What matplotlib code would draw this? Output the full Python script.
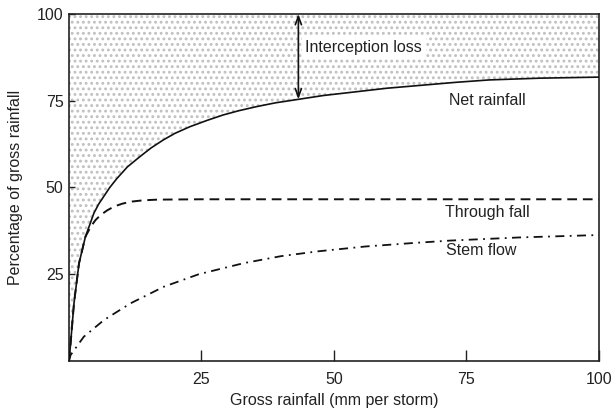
import matplotlib
matplotlib.use("Agg")
import matplotlib.pyplot as plt

plt.rcParams['font.family'] = ['Liberation Sans', 'DejaVu Sans']
plt.rcParams['hatch.linewidth'] = 1.3

# Partitioning of gross rainfall (percent) against storm size (mm)
x_net = [0, 0.3, 0.94, 1.9, 3.1, 4.0, 4.7, 5.6, 6.6, 7.7, 9.0, 11.0, 13.4,
         15.5, 17.8, 20.0, 22.8, 26.0, 29.1, 32.0, 35.4, 39.0, 43.3, 48.0,
         54.3, 60.0, 66.9, 73.0, 79.4, 88.9, 100]
net_rainfall = [0, 5.0, 16.6, 28.2, 35.8, 39.6, 42.6, 45.2, 47.5, 50.0, 52.5,
                55.9, 58.9, 61.4, 63.7, 65.6, 67.5, 69.3, 70.9, 72.1, 73.3,
                74.4, 75.4, 76.5, 77.6, 78.6, 79.5, 80.3, 81.0, 81.5, 81.8]

x_through = [0, 0.3, 0.94, 1.9, 3.1, 4.1, 5.0, 6.0, 7.2, 8.5, 10.0, 11.6, 14.0,
             16.7, 25, 50, 75, 100]
through_fall = [0, 5.0, 16.6, 28.2, 35.8, 38.7, 40.6, 42.1, 43.4, 44.5, 45.3,
                45.9, 46.3, 46.5, 46.6, 46.6, 46.6, 46.6]

x_stem = [0, 0.3, 2.8, 6.6, 11.6, 17.9, 24.5, 33.0, 40.0, 47.0, 56.0, 65.0,
          72.0, 85.0, 100]
stem_flow = [0, 1.7, 7.0, 11.8, 16.6, 21.4, 25.0, 28.2, 30.2, 31.6, 33.0, 34.0,
             34.7, 35.6, 36.3]

x_ticks = [25, 50, 75, 100]
y_ticks = [25, 50, 75, 100]

arrow_x = 43.3
arrow_bottom = 75.4

fig = plt.figure(figsize=(6.16, 4.11), dpi=100)
ax = fig.add_axes([0.112, 0.1217, 0.86, 0.8443])

# stippled interception-loss region above the net rainfall curve
ax.fill_between(x_net, net_rainfall, 100, facecolor='white', edgecolor='#c0c0c0',
                hatch='...', linewidth=0, zorder=1)

ax.plot(x_net, net_rainfall, color='#111111', lw=1.2, zorder=3,
        solid_joinstyle='round')
ax.plot(x_through, through_fall, color='#111111', lw=1.4,
        linestyle=(0, (5, 3)), zorder=3)
ax.plot(x_stem, stem_flow, color='#111111', lw=1.3,
        linestyle=(0, (5, 3, 1, 3)), zorder=3)

ax.annotate('', xy=(arrow_x, 100), xytext=(arrow_x, arrow_bottom),
            arrowprops=dict(arrowstyle='<->,head_length=0.6,head_width=0.22',
                            lw=1.2, color='#111111', shrinkA=0, shrinkB=0),
            zorder=4)

fs = 11.5
tc = '#222222'
ax.text(44.6, 90.2, 'Interception loss', fontsize=fs, color=tc, va='center',
        ha='left', zorder=5,
        bbox=dict(facecolor='white', edgecolor='none', pad=2.5))
ax.text(71.7, 75.2, 'Net rainfall', fontsize=fs, color=tc, va='center', ha='left')
ax.text(70.9, 42.9, 'Through fall', fontsize=fs, color=tc, va='center', ha='left')
ax.text(71.2, 31.8, 'Stem flow', fontsize=fs, color=tc, va='center', ha='left')

ax.set_xlim(0, 100)
ax.set_ylim(0, 100)
ax.set_xticks(x_ticks)
ax.set_yticks(y_ticks)
ax.tick_params(axis='x', direction='in', length=8, width=1, colors='#222222',
               labelsize=fs, pad=8)
ax.tick_params(axis='y', direction='in', length=4, width=1, colors='#222222',
               labelsize=fs, pad=4)
for s in ax.spines.values():
    s.set_linewidth(1.2)
    s.set_color('#222222')

ax.set_xlabel('Gross rainfall (mm per storm)', fontsize=fs, color=tc, labelpad=4)
ax.set_ylabel('Percentage of gross rainfall', fontsize=fs, color=tc, labelpad=10)

fig.savefig('out.png', dpi=100)
